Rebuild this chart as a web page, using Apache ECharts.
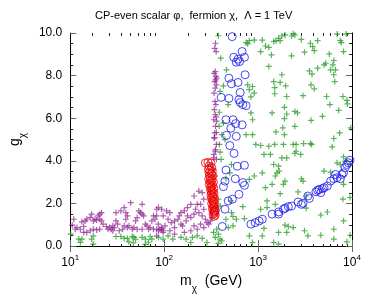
<!DOCTYPE html>
<html><head><meta charset="utf-8">
<script src="https://cdn.jsdelivr.net/npm/echarts@6/dist/echarts.min.js"></script>
<style>html,body{margin:0;padding:0;background:#fff}#c{width:374px;height:299px}</style>
</head><body><div id="c"></div>
<script>
// [m_chi (GeV), g_chi]
const greenPoints = [
[10.1,0.56],[12.3,0.33],[13.3,0.33],[12.8,0.17],[16.9,0.33],[17.6,0.48],[17.6,0.09],[30.7,0.45],[34.6,0.45],[37.5,0.36],[40.6,0.36],[45.8,0.45],[49.6,0.33],[47.6,0.41],[58.2,0.41],[63.0,0.33],[71.0,0.45],[73.9,0.33],[42,0.2],[47,0.15],[63,0.08],[68,0.18],
[394,4.41],[404,4.07],[512,2.12],[455,1.26],[481,0.87],[363,0.79],[336,0.64],[378,0.56],[350,0.41],[394,0.33],[410,0.25],[225,0.48],[200,0.41],[171,0.33],[151,0.41],[123.6,0.33],[110,0.48],[97.5,0.33],[87,0.41],[192,0.17],[254,0.36],[286,0.17],
[410,5.23],[387,4.77],[444,5.0],[1352,4.3],[1155,4.3],[520,3.83],[500,3.44],[455,3.16],[807,3.13],[910,3.29],[1109,3.44],[1409,2.9],[1199,2.74],[378,2.2],[394,1.88],[520,1.57],[541,1.39],[687,1.85],[1065,1.73],[1245,1.81],[1245,2.12],[716,1.29],[586,1.26],[541,0.95],[378,0.13],[807,0.48],[873,0.17],[1155,0.83],[1109,0.48],
[378,9.87],[400,8.82],[461,8.27],[427,7.52],[394,7.26],[481,6.64],[387,6.28],[427,5.78],[385,5.62],
[745,9.55],[807,9.64],[775,9.49],[910,9.67],[1109,9.67],[1065,9.13],[1199,9.39],[1302,9.33],[1387,8.97],[1936,9.91],[1302,8.43],[775,7.57],[807,7.34],[873,7.49],[910,7.18],[839,7.0],[2018,7.02],[839,6.25],[873,5.93],[873,5.23],[745,5.23],[946,4.77],[1065,4.72],[1302,4.69],[1409,6.25],
[2366,9.97],[2460,9.91],[2271,9.86],[1791,9.86],[1652,9.75],[1549,9.64],[1718,9.64],[1466,9.6],[2884,9.7],[3605,9.52],[3817,9.36],[4303,9.64],[3966,9.17],[3119,9.1],[2271,8.93],[5731,9.02],[8130,9.13],[7511,9.64],[7691,9.55],[6938,9.95],[8670,9.95],[6400,8.71],[6250,8.5],[5250,8.58],[5040,8.5],[5916,8.27],[6668,8.27],[6400,8.04],[6550,7.72],[4303,8.35],[3519,8.22],[3750,8.07],[1791,8.04],[1466,7.72],[1718,7.68],[1968,7.52],[1503,7.44],[1503,7.15],[3665,7.57],[3966,7.38],[3006,7.06],[5370,7.02],[5810,6.64],[8000,7.02],[8810,6.84],[8940,6.67],[7210,6.37],[1908,6.51],[2018,6.2],[2460,6.32],[2624,6.25],[1908,5.98],[4849,6.09],[3665,5.9],[2460,5.62],[1832,5.55],[1549,5.36],[1908,5.23],[7380,5.31],[9700,5.55],[6400,5.05],
[1503,4.77],[1862,4.77],[2366,4.77],[2540,4.77],[3050,4.81],[3605,4.81],[3725,4.77],[6150,4.66],[2540,4.45],[2460,4.35],[2838,4.3],[2018,4.14],[1791,4.14],[8130,4.19],[8460,3.99],[6938,3.91],[7511,3.83],[9530,3.83],[1466,3.83],[1652,3.75],[1679,3.52],[1589,3.44],[5040,3.52],[5916,3.47],[1525,3.29],[1936,3.05],[2884,3.16],[3006,3.05],[1862,2.9],[8130,2.9],[1718,2.46],[2666,2.54],[3252,2.35],[9530,2.28],[8000,2.2],[1525,1.96],[5464,1.6],[4656,1.46],[3252,1.78],[8130,1.18],[1936,0.98],[2099,0.92],[2366,0.87],[3119,0.72],[3388,0.48],[1652,0.64],[2018,0.64],[6400,0.79],[4656,0.51],[6400,0.33],[8810,0.2],[9530,0.51],[1652,0.09],[1466,0.17]
];
const purplePoints = [
[10.9,1.26],[10.5,0.98],[11.3,0.79],[11.8,0.87],[12.8,0.79],[13.9,0.92],[13.3,1.14],[14.4,1.18],[15.0,1.26],[16.3,1.34],[16.9,1.5],[17.6,1.18],[18.3,1.26],[19.1,1.23],[19.8,1.42],[20.6,1.5],[21.5,1.57],[20.6,1.26],[21.5,1.18],[22.4,1.03],[17.6,0.79],[19.1,0.76],[20.6,0.79],[16.3,0.72],[15.0,0.64],[13.9,0.64],[24.2,0.92],[25.2,0.79],[26.2,0.87],[27.3,0.79],[28.4,0.72],[29.5,0.87],[30.7,1.18],[32.0,1.03],[30.7,1.57],[34.6,1.65],[37.5,1.81],[39.1,1.57],[40.6,1.42],[39.1,1.26],[37.5,0.95],[40.6,0.87],[42.2,0.95],[44.0,2.04],[45.8,0.79],[47.6,0.87],[49.6,1.18],[51.6,1.34],[53.7,1.65],[55.9,1.57],[58.2,1.5],[58.2,1.96],[60.5,1.42],[63.0,1.03],[65.6,0.95],[68.2,0.79],[71.0,0.87],[73.9,1.18],[76.9,1.42],[80.0,1.26],[83.3,1.73],[86.6,1.03],[90.1,0.79],[93.8,0.87],[97.6,1.42],[97.6,0.72],[76.9,0.79],[83.3,0.79],[58.2,0.79],[51.6,0.79],[33.2,0.72],[36.1,0.79],[28.4,0.95],
[350,4.45],[336,4.14],[322,3.83],[336,3.6],[350,3.29],[234,2.58],[254,2.51],[264,2.2],[208,2.35],[225,1.96],[244,1.96],[192,1.96],[177,1.81],[164,1.65],[151,1.57],[145,1.42],[140,1.26],[129,1.18],[119,1.1],[110,1.26],[102,0.95],[94,0.79],[87,0.72],[83,0.48],[97.5,0.64],[115,0.72],[129,0.87],[151,1.03],[171,1.18],[192,1.34],[208,1.5],[234,1.57],[254,1.42],[275,1.26],[286,1.1],[298,1.03],[310,1.18],[322,1.34],[264,1.73],[216,1.73],[177,1.42],[157,0.95],[208,0.95],[244,1.03],[264,0.87],[225,0.79],[192,0.72],[164,0.64],[129,0.56],[115,1.57],[106,1.65],[94,1.73],[87,1.81],[83,1.42],
[352,9.52],[345,9.28],[358,9.13],[350,8.19],[340,8.11],[355,7.96],[362,7.88],[352,7.8],[345,7.72],[360,7.57],[350,7.41],[340,7.18],[348,6.79],[355,6.64],[342,6.4],[350,6.17],[358,6.06],[338,5.93],[362,5.86],[352,5.62],[345,5.31],[340,5.08],[360,5.33],[345,5.08],[360,4.77],[352,4.53],[338,4.3],[360,4.07]
];
const bluePoints = [
[529,9.83],[676,9.13],[551,8.86],[611,8.77],[636,8.66],[716,8.86],[586,8.63],[727,8.04],[489,7.88],[520,7.62],[611,7.68],[645,7.21],[404,6.98],[489,6.93],[625,6.87],[645,6.74],[687,6.64],[745,6.59],[455,5.93],[541,5.93],[578,5.75],[676,5.69],[512,5.53],[461,5.2],[586,5.15],
[500,4.72],[555,4.35],[455,3.57],[600,3.75],[716,3.79],[444,3.05],[572,3.16],[687,2.98],[716,2.85],[427,2.79],[625,2.43],[532,2.2],[481,2.12],[444,1.73],[350,1.65],[416,0.92],
[839,1.03],[931,1.1],[1025,1.18],[1109,1.26],
[1409,1.5],[1652,1.6],[1652,1.5],[1862,1.73],[1936,1.78],[2099,1.85],[2271,1.88],[2666,2.07],[2884,1.96],[3006,2.01],[3388,2.35],[3519,2.24],[4130,2.55],[4303,2.62],[4470,2.66],[4656,2.51],[4849,2.7],[5040,2.74],[5464,2.82],[5916,3.05],[6400,3.16],[6668,3.36],[6938,3.21],[7511,3.16],[7818,3.36],[8130,3.44],[8460,3.68],[8810,3.83],[9160,3.91],[9530,4.03]
];
const redPoints = [
[275,3.9],[293,3.93],[315,3.9],[300,3.75],[320,3.7],[296,3.6],[310,3.55],[325,3.5],[300,3.45],[318,3.4],[305,3.3],[330,3.3],[312,3.2],[298,3.15],[322,3.1],[308,3.05],[335,3.0],[315,2.95],[302,2.9],[328,2.85],[318,2.8],[310,2.75],[338,2.7],[322,2.65],[313,2.6],[332,2.55],[320,2.5],[340,2.45],[315,2.4],[328,2.35],[335,2.3],[318,2.25],[342,2.2],[325,2.15],[332,2.1],[338,2.05],[320,2.0],[345,1.95],[330,1.9],[336,1.85],[342,1.8],[326,1.75],[348,1.7],[335,1.65],[340,1.6],[345,1.55],[332,1.5],[350,1.45],[340,1.4]
];
const xMajorTicks = [10, 100, 1000, 10000];
const xMinorTicks = [20,30,40,50,60,70,80,90,200,300,400,500,600,700,800,900,2000,3000,4000,5000,6000,7000,8000,9000];
const yMin = 0, yMax = 10, yStep = 2;

const FONT = 'Liberation Sans, Arial, sans-serif';
const plusPath = 'path://M4,0L6,0L6,4L10,4L10,6L6,6L6,10L4,10L4,6L0,6L0,4L4,4Z';
const gridRect = {left: 63, right: 22, top: 33, bottom: 52};

const chart = echarts.init(document.getElementById('c'), null, {renderer: 'canvas'});
const xBase = {type: 'log', logBase: 10, min: 10, max: 10000, splitLine: {show: false}};
const majTick = {show: true, inside: true, length: 6, lineStyle: {color: '#666', width: 1}, customValues: xMajorTicks};
const minTick = {show: true, inside: true, length: 3, lineStyle: {color: '#222', width: 1}, customValues: xMinorTicks};

chart.setOption({
  animation: false,
  backgroundColor: '#fff',
  textStyle: {fontFamily: FONT},
  title: {
    text: 'CP-even scalar \u03c6,  fermion \u03c7,  \u039b = 1 TeV',
    left: 95, top: 10, padding: 0,
    textStyle: {fontSize: 11, fontWeight: 'normal', color: '#000', fontFamily: FONT}
  },
  grid: [Object.assign({}, gridRect), Object.assign({}, gridRect)],
  xAxis: [
    Object.assign({}, xBase, {
      gridIndex: 0, position: 'bottom',
      axisLine: {show: true, lineStyle: {color: '#000', width: 1}},
      axisTick: majTick,
      axisLabel: {
        show: true, margin: 8, color: '#000', fontFamily: FONT, customValues: xMajorTicks,
        formatter: v => '{b|10}{s|' + Math.round(Math.log10(v)) + '}',
        rich: {b: {fontSize: 12, lineHeight: 15, color: '#000', fontFamily: FONT, verticalAlign: 'bottom'},
               s: {fontSize: 8, lineHeight: 15, color: '#000', fontFamily: FONT, verticalAlign: 'top'}}
      },
      name: '{m|m}{c|\u03c7}{m|  (GeV)}',
      nameLocation: 'middle', nameGap: 27,
      nameTextStyle: {
        rich: {m: {fontSize: 14, color: '#000', fontFamily: FONT, lineHeight: 20, verticalAlign: 'top'},
               c: {fontSize: 10, color: '#000', fontFamily: FONT, lineHeight: 20, verticalAlign: 'bottom'}}
      }
    }),
    Object.assign({}, xBase, {
      gridIndex: 0, position: 'top',
      axisLine: {show: true, lineStyle: {color: '#000', width: 1}},
      axisTick: majTick, axisLabel: {show: false}
    }),
    Object.assign({}, xBase, {
      gridIndex: 1, position: 'bottom',
      axisLine: {show: false}, axisTick: minTick, axisLabel: {show: false}
    }),
    Object.assign({}, xBase, {
      gridIndex: 1, position: 'top',
      axisLine: {show: false}, axisTick: minTick, axisLabel: {show: false}
    })
  ],
  yAxis: [
    {
      gridIndex: 0, type: 'value', min: yMin, max: yMax, interval: yStep, position: 'left',
      splitLine: {show: false},
      axisLine: {show: true, lineStyle: {color: '#000', width: 1}},
      axisTick: {show: true, inside: true, length: 6, lineStyle: {color: '#666'}},
      minorTick: {show: true, splitNumber: 4, length: 3, lineStyle: {color: '#222'}},
      axisLabel: {margin: 8, fontSize: 12, color: '#000', fontFamily: FONT, formatter: v => v.toFixed(1)},
      name: '{g|g}{c|\u03c7}', nameLocation: 'middle', nameGap: 40, nameRotate: 90,
      nameTextStyle: {
        rich: {g: {fontSize: 14, color: '#000', fontFamily: FONT, lineHeight: 20, verticalAlign: 'top'},
               c: {fontSize: 10, color: '#000', fontFamily: FONT, lineHeight: 20, verticalAlign: 'bottom'}}
      }
    },
    {
      gridIndex: 0, type: 'value', min: yMin, max: yMax, interval: yStep, position: 'right',
      splitLine: {show: false},
      axisLine: {show: true, lineStyle: {color: '#000', width: 1}},
      axisTick: {show: true, inside: true, length: 6, lineStyle: {color: '#666'}},
      minorTick: {show: true, splitNumber: 4, length: 3, lineStyle: {color: '#222'}},
      axisLabel: {show: false}
    },
    {gridIndex: 1, type: 'value', min: yMin, max: yMax, show: false}
  ],
  series: [
    {type: 'scatter', xAxisIndex: 0, yAxisIndex: 0, data: greenPoints, symbol: plusPath, symbolSize: 6,
     itemStyle: {color: '#1f9a1f', opacity: 0.75}, silent: true},
    {type: 'scatter', xAxisIndex: 0, yAxisIndex: 0, data: purplePoints, symbol: plusPath, symbolSize: 6,
     itemStyle: {color: '#8b1a8b', opacity: 0.7}, silent: true},
    {type: 'scatter', xAxisIndex: 0, yAxisIndex: 0, data: bluePoints, symbol: 'circle', symbolSize: 8,
     itemStyle: {color: 'rgba(0,0,0,0)', borderColor: '#1a1aee', borderWidth: 1}, silent: true},
    {type: 'scatter', xAxisIndex: 0, yAxisIndex: 0, data: redPoints, symbol: 'circle', symbolSize: 8,
     itemStyle: {color: 'rgba(0,0,0,0)', borderColor: '#ee0000', borderWidth: 1}, silent: true}
  ]
});
</script>
</body></html>
